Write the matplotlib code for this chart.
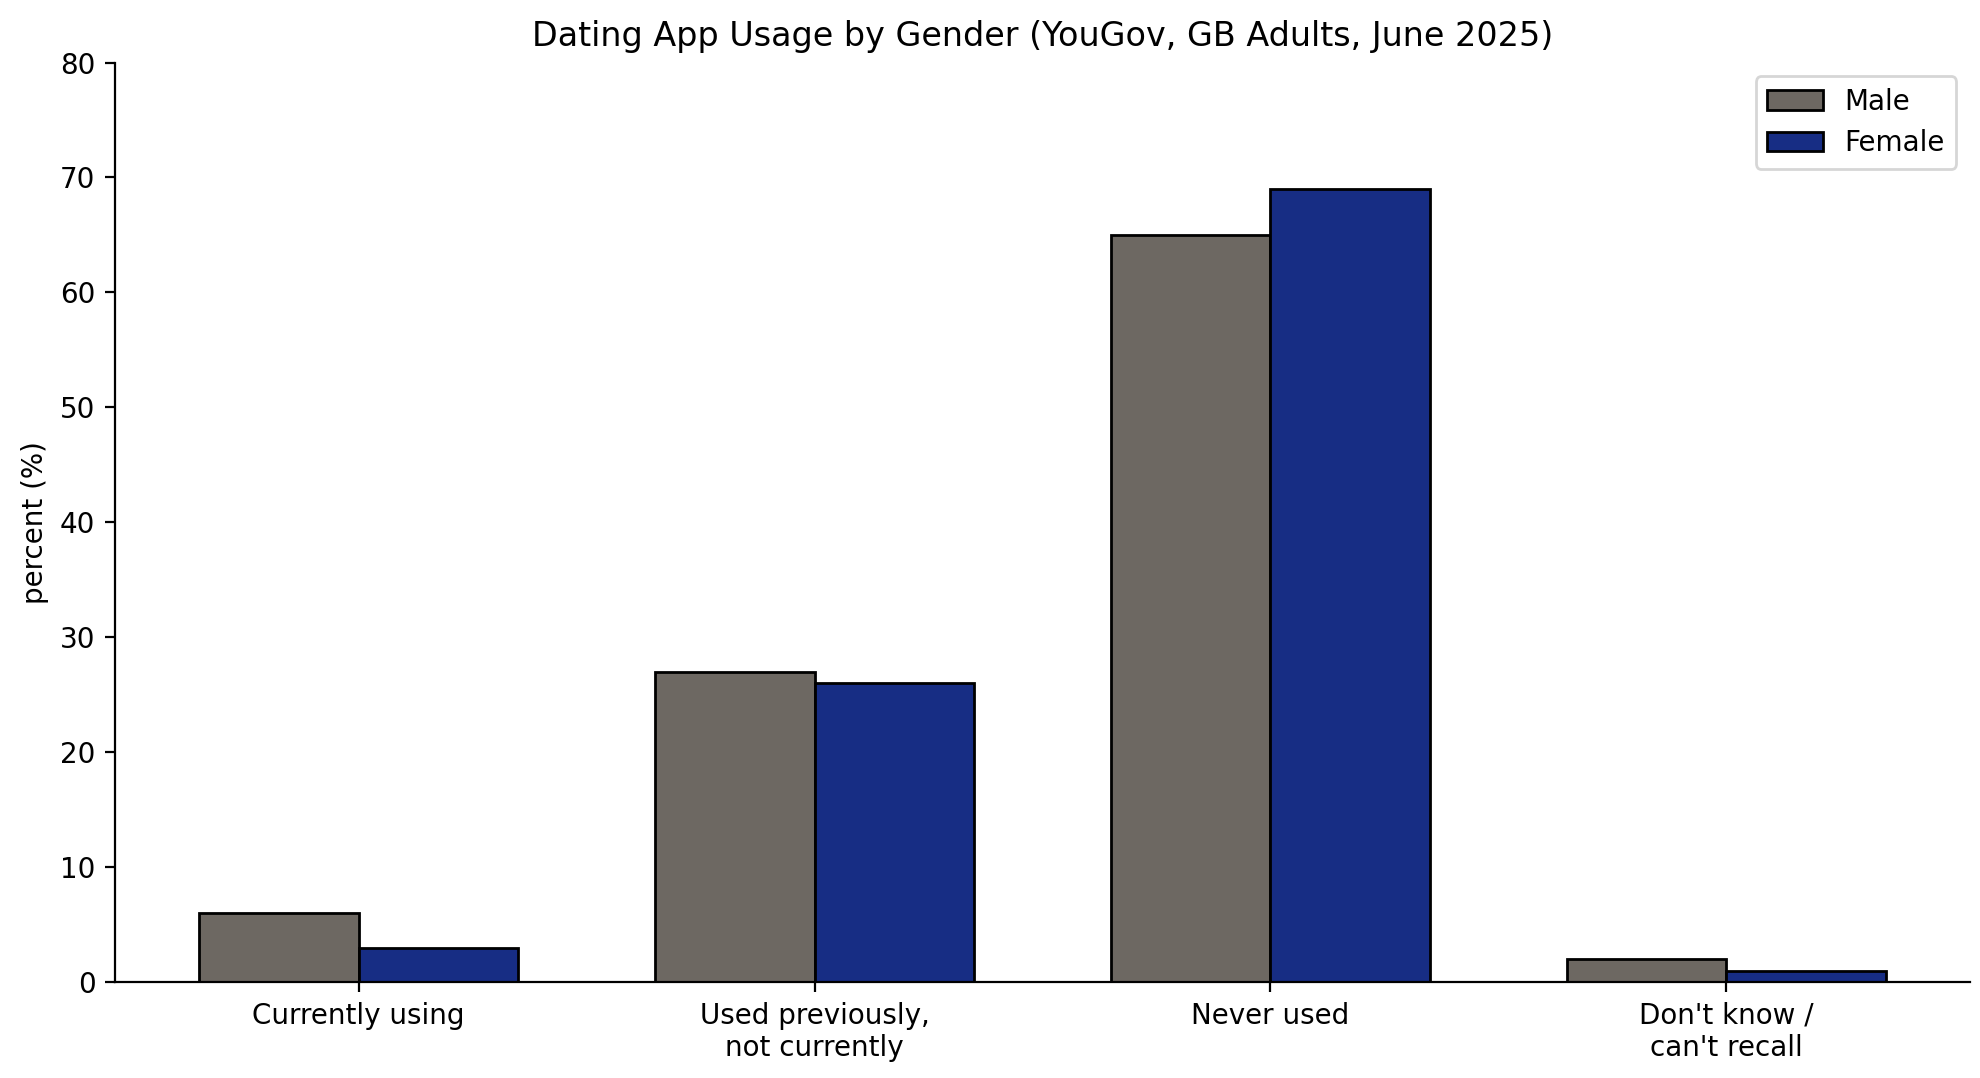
import numpy as np
import matplotlib
matplotlib.use('Agg')
import matplotlib.pyplot as plt

# data (YouGov, GB adults, June 2025)
categories = ['Currently using', 'Used previously,\nnot currently', 'Never used', "Don't know /\ncan't recall"]
male = [6, 27, 65, 2]
female = [3, 26, 69, 1]

fig, ax = plt.subplots(figsize=(9.9, 5.39), dpi=200)

x = np.arange(len(categories))
w = 0.35
ax.bar(x - w / 2, male, w, color='#6d6862', edgecolor='black', linewidth=1.0, label='Male')
ax.bar(x + w / 2, female, w, color='#172d84', edgecolor='black', linewidth=1.0, label='Female')

ax.set_xticks(x)
ax.set_xticklabels(categories)
ax.set_ylim(0, 80)
ax.set_ylabel('percent (%)')
ax.set_title('Dating App Usage by Gender (YouGov, GB Adults, June 2025)')
ax.spines['top'].set_visible(False)
ax.spines['right'].set_visible(False)
ax.legend(loc='upper right')

plt.subplots_adjust(left=0.058, right=0.995, top=0.942, bottom=0.089)
plt.savefig('out.png', dpi=200)
